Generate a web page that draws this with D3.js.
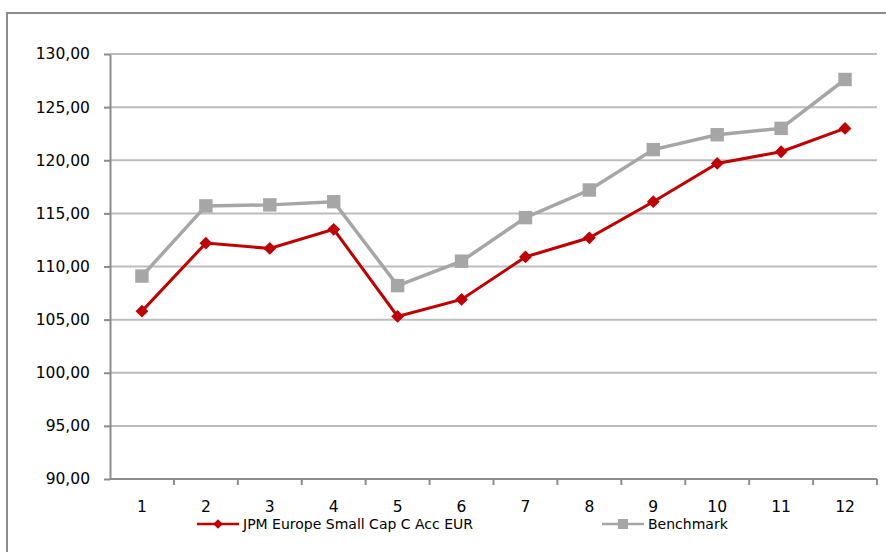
<!DOCTYPE html>
<html lang="en">
<head>
<meta charset="utf-8">
<title>D3: line chart</title>
<script src="https://d3js.org/d3.v7.min.js"></script>
<style type="text/css">
  body { margin: 0; background: #fff; }
  text { font-family: "DejaVu Sans", sans-serif; fill: #000; }
  .grid line { stroke: #bdbdbd; stroke-width: 2; }
  .axis path, .axis line { stroke: #8c8c8c; stroke-width: 2; }
</style>
</head>
<body>
<script type="text/javascript">

var categories = ["1", "2", "3", "4", "5", "6", "7", "8", "9", "10", "11", "12"];
var fundValues = [105.8, 112.2, 111.7, 113.5, 105.3, 106.9, 110.9, 112.7, 116.1, 119.7, 120.8, 123.0];
var benchValues = [109.1, 115.7, 115.8, 116.1, 108.2, 110.5, 114.6, 117.2, 121.0, 122.4, 123.0, 127.6];
var yTicks = [90, 95, 100, 105, 110, 115, 120, 125, 130];
var seriesNames = ["JPM Europe Small Cap C Acc EUR", "Benchmark"];

var width = 886, height = 552;
var margin = {top: 54, right: 9, bottom: 73, left: 110};

var svg = d3.select("body").append("svg")
  .attr("width", width)
  .attr("height", height);

// outer frame
svg.append("rect")
  .attr("x", 7).attr("y", 13)
  .attr("width", 900).attr("height", 600)
  .attr("fill", "none")
  .attr("stroke", "#8c8c8c")
  .attr("stroke-width", 2);

var xscale = d3.scaleBand()
  .domain(categories)
  .range([margin.left, width - margin.right]);

var yscale = d3.scaleLinear()
  .domain([90, 130])
  .range([height - margin.bottom, margin.top]);

// gridlines
svg.append("g")
  .attr("class", "grid")
  .selectAll("line")
  .data(yTicks.slice(1))
  .enter().append("line")
  .attr("x1", margin.left)
  .attr("x2", width - margin.right)
  .attr("y1", function(d) { return yscale(d); })
  .attr("y2", function(d) { return yscale(d); });

var fmt = function(d) { return d3.format(".2f")(d).replace(".", ","); };

// y axis
var yAxis = svg.append("g")
  .attr("class", "axis")
  .attr("transform", "translate(" + margin.left + ",0)")
  .call(d3.axisLeft(yscale).tickValues(yTicks).tickFormat(fmt).tickSize(6).tickSizeOuter(0));
yAxis.selectAll("text")
  .attr("x", -20)
  .style("font-size", "15.5px")
  .style("font-family", "DejaVu Sans");

// x axis: ticks on band edges
var xAxis = svg.append("g")
  .attr("class", "axis")
  .attr("transform", "translate(0," + yscale(90) + ")");
xAxis.append("line")
  .attr("x1", margin.left).attr("x2", width - margin.right)
  .attr("y1", 0).attr("y2", 0);
xAxis.selectAll(".tk")
  .data(categories)
  .enter().append("line")
  .attr("class", "tk")
  .attr("x1", function(d) { return xscale(d) + xscale.bandwidth(); })
  .attr("x2", function(d) { return xscale(d) + xscale.bandwidth(); })
  .attr("y1", 0).attr("y2", 6);
xAxis.selectAll("text")
  .data(categories)
  .enter().append("text")
  .attr("x", function(d) { return xscale(d) + xscale.bandwidth() / 2; })
  .attr("y", 33)
  .attr("text-anchor", "middle")
  .style("font-size", "15.5px")
  .text(function(d) { return d; });

var line = d3.line()
  .x(function(d, i) { return xscale(categories[i]) + xscale.bandwidth() / 2; })
  .y(function(d) { return yscale(d); });

var squareSym = d3.symbol().type(d3.symbolSquare).size(180);
var diamondSym = d3.symbol().type(d3.symbolDiamond2).size(105);

// benchmark
svg.append("path")
  .datum(benchValues)
  .attr("fill", "none")
  .attr("stroke", "#a6a6a6")
  .attr("stroke-width", 3.5)
  .attr("d", line);
svg.append("g").selectAll("path")
  .data(benchValues)
  .enter().append("path")
  .attr("fill", "#a6a6a6")
  .attr("transform", function(d, i) {
    return "translate(" + (xscale(categories[i]) + xscale.bandwidth() / 2) + "," + yscale(d) + ")";
  })
  .attr("d", squareSym);

// fund
svg.append("path")
  .datum(fundValues)
  .attr("fill", "none")
  .attr("stroke", "#c00000")
  .attr("stroke-width", 3)
  .attr("d", line);
svg.append("g").selectAll("path")
  .data(fundValues)
  .enter().append("path")
  .attr("fill", "#c00000")
  .attr("transform", function(d, i) {
    return "translate(" + (xscale(categories[i]) + xscale.bandwidth() / 2) + "," + yscale(d) + ")";
  })
  .attr("d", diamondSym);

// legend
var legend = [
  {name: seriesNames[0], x: 197, color: "#c00000", sym: d3.symbol().type(d3.symbolDiamond2).size(60), w: 2.5},
  {name: seriesNames[1], x: 602, color: "#a6a6a6", sym: d3.symbol().type(d3.symbolSquare).size(100), w: 2.5}
];
var lg = svg.append("g").selectAll("g")
  .data(legend)
  .enter().append("g")
  .attr("transform", function(d) { return "translate(" + d.x + ",524)"; });
lg.append("line")
  .attr("x1", 0).attr("x2", 42)
  .attr("stroke", function(d) { return d.color; })
  .attr("stroke-width", function(d) { return d.w; });
lg.append("path")
  .attr("transform", "translate(21,0)")
  .attr("fill", function(d) { return d.color; })
  .attr("d", function(d) { return d.sym(); });
lg.append("text")
  .attr("x", 46)
  .attr("y", 5)
  .style("font-size", "14px")
  .text(function(d) { return d.name; });

</script>
</body>
</html>
